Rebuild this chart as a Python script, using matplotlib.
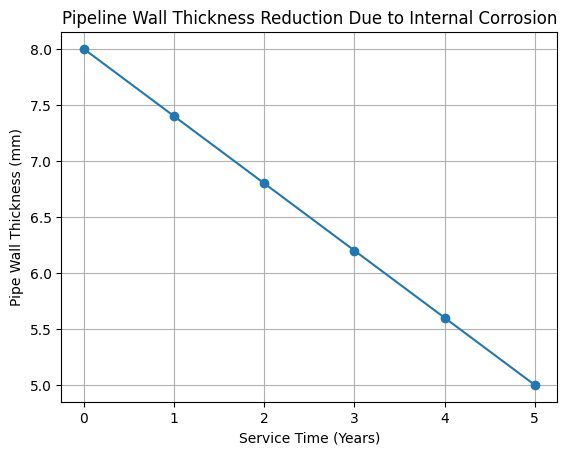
import matplotlib
matplotlib.use('Agg')
import matplotlib.pyplot as plt

years = [0, 1, 2, 3, 4, 5]
thickness = [8.0, 7.4, 6.8, 6.2, 5.6, 5.0]

plt.figure(figsize=(6.4, 4.8))
plt.plot(years, thickness, marker='o')
plt.title('Pipeline Wall Thickness Reduction Due to Internal Corrosion')
plt.xlabel('Service Time (Years)')
plt.ylabel('Pipe Wall Thickness (mm)')
plt.grid(True)
plt.savefig('out.png', dpi=100, bbox_inches='tight')
